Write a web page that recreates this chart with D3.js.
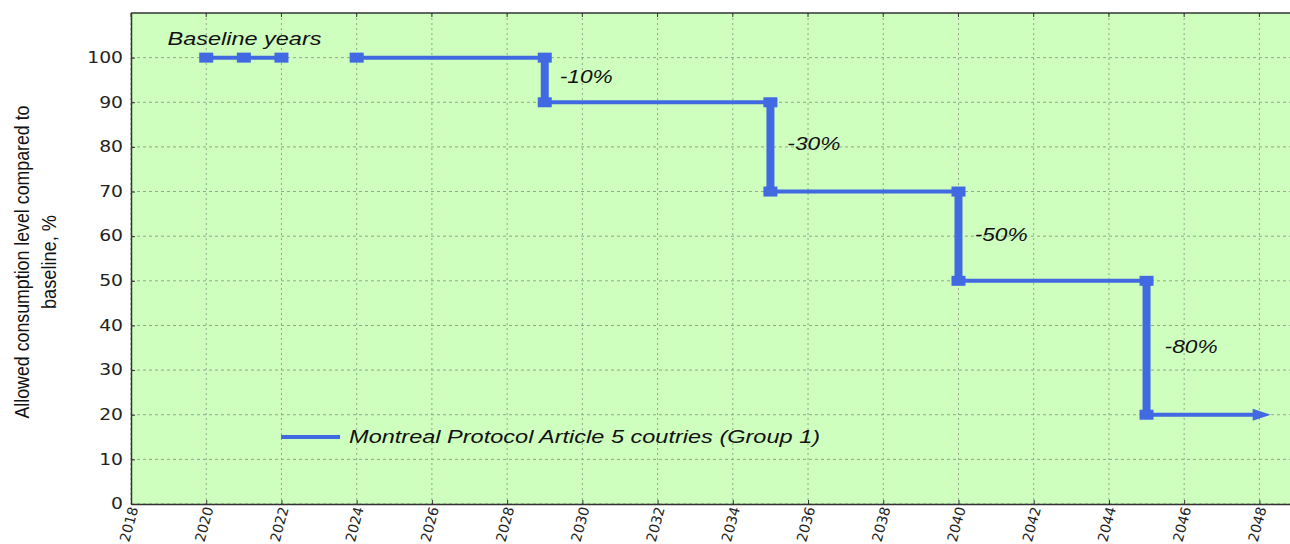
<!DOCTYPE html>
<html>
<head>
<meta charset="utf-8">
<script src="https://cdn.jsdelivr.net/npm/d3@7"></script>
<style>
  body { margin: 0; background: #fff; }
  svg { display: block; }
</style>
</head>
<body>
<div id="chart"></div>
<script>
// data
const baselineYears = [2020, 2021, 2022];
const baselineValues = [100, 100, 100];
const phaseYears = [2024, 2029, 2029, 2035, 2035, 2040, 2040, 2045, 2045, 2048.3];
const phaseValues = [100, 100, 90, 90, 70, 70, 50, 50, 20, 20];
const xTicks = d3.range(2018, 2049, 2);
const yTicks = d3.range(0, 101, 10);
const stepLabels = ['-10%', '-30%', '-50%', '-80%'];
const stepLabelYears = [2029.4, 2035.45, 2040.43, 2045.48];
const stepLabelValues = [94.3, 79.3, 58.9, 33.8];
const legendLabel = 'Montreal Protocol Article 5 coutries (Group 1)';

const margin = { top: 13, right: -7, bottom: 40, left: 131 };
const W = 1290;
const H = 544;
const width = W - margin.left - margin.right;
const height = H - margin.top - margin.bottom;
const blue = '#4169e1';

const svg = d3
  .select('#chart')
  .append('svg')
  .attr('width', W)
  .attr('height', H);

const g = svg
  .append('g')
  .attr('transform', 'translate(' + margin.left + ',' + margin.top + ')');

const x = d3.scaleLinear().domain([2018, 2049]).range([0, width]);
const y = d3.scaleLinear().domain([0, 110]).range([height, 0]);

g.append('rect')
  .attr('width', width)
  .attr('height', height)
  .attr('fill', '#cfffbf');

// grid
g.selectAll('.vgrid')
  .data(xTicks)
  .join('line')
  .attr('x1', (d) => x(d))
  .attr('x2', (d) => x(d))
  .attr('y1', 0)
  .attr('y2', height)
  .attr('stroke', '#8fa888')
  .attr('stroke-width', 1)
  .attr('stroke-dasharray', '2,3');

g.selectAll('.hgrid')
  .data(yTicks)
  .join('line')
  .attr('x1', 0)
  .attr('x2', width)
  .attr('y1', (d) => y(d))
  .attr('y2', (d) => y(d))
  .attr('stroke', '#8fa888')
  .attr('stroke-width', 1)
  .attr('stroke-dasharray', '3,3');

// axes
const xAxis = g
  .append('g')
  .attr('transform', 'translate(0,' + height + ')')
  .call(d3.axisBottom(x).tickValues(xTicks).tickFormat(d3.format('d')).tickSizeInner(-4).tickSizeOuter(0));
xAxis.select('.domain').attr('stroke', '#333').attr('stroke-width', 1.5);
xAxis.selectAll('line').attr('stroke', '#333');
xAxis
  .selectAll('text')
  .attr('font-family', 'DejaVu Sans')
  .attr('font-size', 14)
  .attr('fill', '#222')
  .attr('text-anchor', 'end')
  .attr('dy', '0.35em')
  .attr('y', 0)
  .attr('transform', 'translate(2,3) rotate(-75)');

const yAxis = g
  .append('g')
  .call(d3.axisLeft(y).tickValues(yTicks).tickSizeInner(-4).tickSizeOuter(0).tickPadding(8));
yAxis.select('.domain').attr('stroke', '#333').attr('stroke-width', 1.5);
yAxis.selectAll('line').attr('stroke', '#333');
yAxis
  .selectAll('text')
  .attr('font-family', 'DejaVu Sans')
  .attr('font-size', 15)
  .attr('fill', '#222')
  .each(function () {
    const w = this.getComputedTextLength();
    d3.select(this).attr('textLength', w * 1.25).attr('lengthAdjust', 'spacingAndGlyphs');
  });

g.append('line')
  .attr('x1', 0)
  .attr('x2', width)
  .attr('y1', 0)
  .attr('y2', 0)
  .attr('stroke', '#333')
  .attr('stroke-width', 1.5);
g.selectAll('.topTick')
  .data(xTicks)
  .join('line')
  .attr('x1', (d) => x(d))
  .attr('x2', (d) => x(d))
  .attr('y1', 0)
  .attr('y2', 4)
  .attr('stroke', '#333');

// series
const basePts = baselineYears.map((d, i) => [d, baselineValues[i]]);
const phasePts = phaseYears.map((d, i) => [d, phaseValues[i]]);

function drawSegments(pts) {
  const segs = d3.pairs(pts);
  g.selectAll(null)
    .data(segs)
    .join('line')
    .attr('x1', (d) => x(d[0][0]))
    .attr('y1', (d) => y(d[0][1]))
    .attr('x2', (d) => x(d[1][0]))
    .attr('y2', (d) => y(d[1][1]))
    .attr('stroke', blue)
    .attr('stroke-width', (d) => (d[0][0] === d[1][0] ? 8 : 4));
}
drawSegments(basePts);
drawSegments(phasePts.slice(0, -1).concat([[phaseYears[phaseYears.length - 1] - 0.45, 20]]));

// arrow head
const last = phasePts[phasePts.length - 1];
const ax = x(last[0]);
const ay = y(last[1]);
g.append('path')
  .attr('d', `M${ax},${ay} L${ax - 18},${ay - 6} L${ax - 18},${ay + 6} Z`)
  .attr('fill', blue);

const markers = basePts.concat(phasePts.slice(0, -1));
g.selectAll('.marker')
  .data(markers)
  .join('rect')
  .attr('class', 'marker')
  .attr('x', (d) => x(d[0]) - 7)
  .attr('y', (d) => y(d[1]) - 5)
  .attr('width', 14)
  .attr('height', 10)
  .attr('fill', blue);

// annotations
function label(txt, xv, yv, len) {
  g.append('text')
    .attr('x', x(xv))
    .attr('y', y(yv))
    .attr('font-family', 'Liberation Sans')
    .attr('font-style', 'italic')
    .attr('font-size', 18)
    .attr('fill', '#111')
    .attr('textLength', len)
    .attr('lengthAdjust', 'spacingAndGlyphs')
    .text(txt);
}
label('Baseline years', 2018.97, 102.8, 154);
stepLabels.forEach((t, i) => label(t, stepLabelYears[i], stepLabelValues[i], 53));

// legend
g.append('line')
  .attr('x1', x(2021.99))
  .attr('x2', x(2021.99) + 59)
  .attr('y1', y(15))
  .attr('y2', y(15))
  .attr('stroke', blue)
  .attr('stroke-width', 4);
g.append('text')
  .attr('x', x(2021.99) + 68)
  .attr('y', y(15) + 6)
  .attr('font-family', 'Liberation Sans')
  .attr('font-style', 'italic')
  .attr('font-size', 18)
  .attr('fill', '#111')
  .attr('textLength', 471)
  .attr('lengthAdjust', 'spacingAndGlyphs')
  .text(legendLabel);

// y label
const yl = svg
  .append('text')
  .attr('transform', 'translate(29,262) rotate(-90)')
  .attr('text-anchor', 'middle')
  .attr('font-family', 'Liberation Sans Narrow, Liberation Sans')
  .attr('font-size', 21)
  .attr('fill', '#111');
yl.append('tspan')
  .attr('x', 0)
  .attr('dy', 0)
  .attr('textLength', 313)
  .attr('lengthAdjust', 'spacingAndGlyphs')
  .text('Allowed consumption level compared to');
yl.append('tspan')
  .attr('x', 0)
  .attr('dy', 27)
  .attr('textLength', 94)
  .attr('lengthAdjust', 'spacingAndGlyphs')
  .text('baseline, %');
</script>
</body>
</html>
